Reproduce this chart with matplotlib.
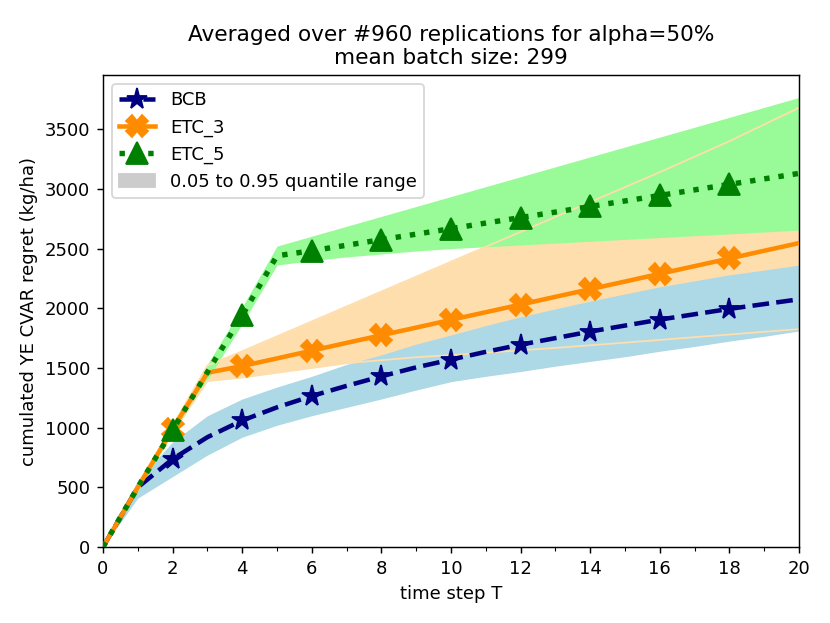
import numpy as np
import matplotlib
matplotlib.use("Agg")
import matplotlib.pyplot as plt
from matplotlib.patches import Patch
from matplotlib.ticker import MultipleLocator

# time steps
T = np.arange(0, 21)

# mean cumulated regret per algorithm
bcb = [0, 500, 737, 920, 1060, 1170, 1265, 1350, 1430, 1505, 1570,
       1635, 1695, 1750, 1805, 1855, 1905, 1950, 1995, 2035, 2075]
etc3 = [0, 500, 988, 1460, 1516, 1580, 1645, 1710, 1774, 1838, 1903,
        1967, 2031, 2096, 2160, 2224, 2289, 2353, 2417, 2482, 2546]
etc5 = [0, 500, 980, 1465, 1940, 2440, 2482, 2528, 2575, 2621, 2667,
        2714, 2760, 2806, 2853, 2899, 2945, 2992, 3038, 3084, 3130]

# 0.05 / 0.95 quantiles
bcb_lo = [0, 410, 590, 770, 920, 1020, 1100, 1170, 1240, 1315, 1385,
          1430, 1470, 1515, 1555, 1594, 1640, 1680, 1725, 1765, 1810]
bcb_hi = [0, 560, 880, 1100, 1240, 1340, 1430, 1530, 1610, 1700, 1776,
          1855, 1929, 1995, 2060, 2120, 2180, 2230, 2280, 2320, 2362]
etc3_lo = [0, 480, 960, 1390, 1420, 1460, 1500, 1540, 1565, 1590, 1608,
           1628, 1648, 1668, 1690, 1712, 1735, 1758, 1780, 1803, 1825]
etc3_hi = [0, 520, 1015, 1520, 1640, 1765, 1890, 2015, 2140, 2265, 2390,
           2515, 2640, 2765, 2890, 3015, 3140, 3270, 3400, 3540, 3680]
etc5_lo = [0, 470, 950, 1400, 1870, 2362, 2400, 2430, 2455, 2480, 2500,
           2515, 2530, 2546, 2561, 2577, 2592, 2608, 2623, 2639, 2655]
etc5_hi = [0, 530, 1015, 1530, 2010, 2521, 2604, 2687, 2770, 2853, 2936,
           3019, 3102, 3185, 3268, 3351, 3434, 3517, 3600, 3683, 3766]

n_rep = 960
alpha = 50
batch = 299

fig = plt.figure(figsize=(830/130, 623/130), dpi=130)
ax = fig.add_axes([103/830, 1-547/623, (799-103)/830, (547-75)/623])

# quantile bands
ax.fill_between(T, etc3_lo, etc3_hi, color='navajowhite', lw=0, zorder=1)
ax.fill_between(T, bcb_lo, bcb_hi, color='lightblue', lw=0, zorder=1.1)
ax.fill_between(T, etc5_lo, etc5_hi, color='palegreen', lw=0, zorder=1.2)
ax.plot(T, etc3_lo, color='navajowhite', lw=1, zorder=1.5)
ax.plot(T, etc3_hi, color='navajowhite', lw=1, zorder=1.5)

mk = slice(2, 20, 2)
ax.plot(T, bcb, color='navy', ls='--', lw=2.5, marker='*', ms=12,
        markevery=mk, label='BCB', zorder=3)
ax.plot(T, etc3, color='darkorange', ls='-', lw=2.5, marker='X', ms=12,
        markevery=mk, label='ETC_3', zorder=3)
ax.plot(T, etc5, color='green', ls=':', lw=3, marker='^', ms=12,
        markevery=mk, label='ETC_5', zorder=3)

handles, labels = ax.get_legend_handles_labels()
handles.append(Patch(color='#cccccc'))
labels.append('0.05 to 0.95 quantile range')
ax.legend(handles, labels, loc='upper left')

ax.set_xlim(0, 20)
ax.set_ylim(bottom=0)
ax.xaxis.set_major_locator(MultipleLocator(2))
ax.xaxis.set_minor_locator(MultipleLocator(1))
ax.set_xlabel('time step T')
ax.set_ylabel('cumulated YE CVAR regret (kg/ha)')
ax.set_title('Averaged over #%d replications for alpha=%d%%\nmean batch size: %d'
             % (n_rep, alpha, batch))

fig.savefig('out.png', dpi=130)
